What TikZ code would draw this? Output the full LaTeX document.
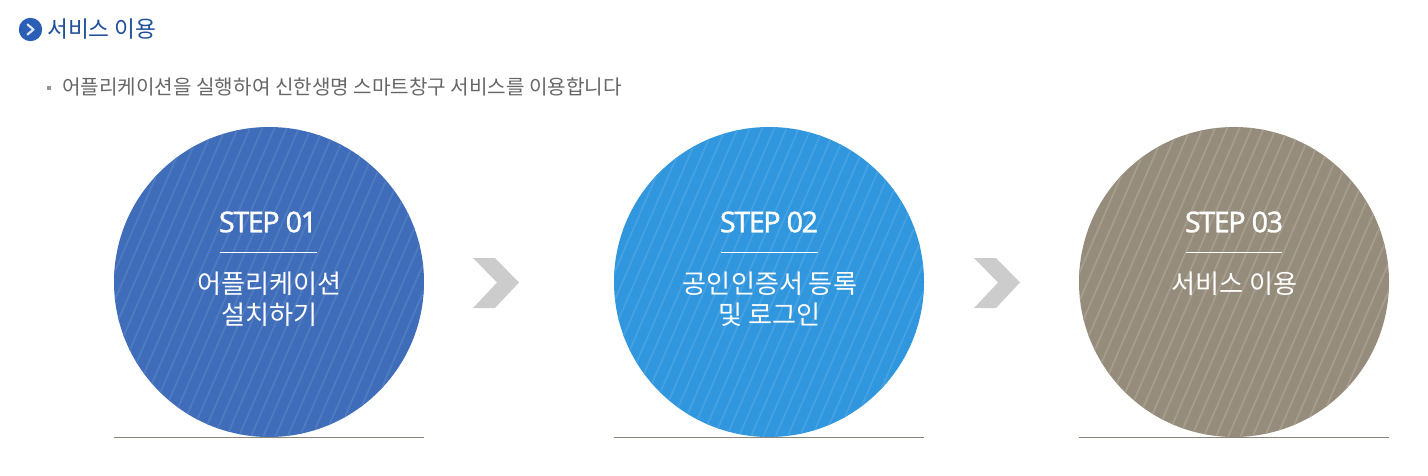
\documentclass[tikz,border=0pt]{standalone}
\usepackage{fontspec}
\setmainfont{Noto Sans CJK KR}
\newfontfamily\stepfont{Noto Sans}[FakeBold=0.9]
\definecolor{titleblue}{HTML}{1F4E9A}
\definecolor{bulletblue}{HTML}{2A5FB5}
\definecolor{bodygray}{HTML}{666666}
\definecolor{blueA}{HTML}{3F6DB9}
\definecolor{blueAs}{HTML}{4F7BC1}
\definecolor{blueB}{HTML}{3096DD}
\definecolor{blueBs}{HTML}{45A1E1}
\definecolor{brownC}{HTML}{968C7B}
\definecolor{brownCs}{HTML}{A59D8E}
\definecolor{chev}{HTML}{CCCCCC}
\definecolor{groundgray}{HTML}{8A8478}
\tikzset{
  x=0.75pt,y=-0.75pt,
  steptitle/.style={text=white,font=\stepfont\fontsize{21.5pt}{22pt}\selectfont\addfontfeatures{LetterSpace=-5},inner sep=0,anchor=center},
  stepdesc/.style={text=white,font=\fontsize{19.6pt}{23.3pt}\selectfont,align=center,inner sep=0,anchor=north},
  rulewhite/.style={white,line width=0.75pt},
  groundline/.style={groundgray,line width=0.9pt},
  chevron/.style={fill=chev,draw=none},
}
\newcommand{\stepcircle}[4]{% cx, fill, stripe, name
  \node[circle,minimum size=232.5pt,inner sep=0,fill=#2] (#4) at (#1,282) {};
  \begin{scope}
    \clip (#1,282) circle[radius=155];
    \foreach \k in {-20,...,20}
      \draw[#3,line width=1.3pt] ({#1+\k*12.2+70},120) -- ({#1+\k*12.2-70},444);
  \end{scope}
}
\begin{document}
\begin{tikzpicture}
\useasboundingbox (0,0) rectangle (1428,475);
% header
\node[circle,fill=bulletblue,minimum size=17.5pt,inner sep=0] (bullet) at (30.5,29.5) {};
\draw[white!85!bulletblue,line width=1.6pt,line cap=round,line join=round] (27.5,24.5) -- (33.5,29.5) -- (27.5,34.5);
\node[anchor=west,inner sep=0,text=titleblue,font=\fontsize{17pt}{18pt}\selectfont] (title) at (47,29) {서비스 이용};
\node[fill=bodygray!70,minimum size=3pt,inner sep=0] (dot) at (49,87.5) {};
\node[anchor=west,inner sep=0,text=bodygray,font=\fontsize{15.1pt}{16pt}\selectfont] (sub) at (62,87) {어플리케이션을 실행하여 신한생명 스마트창구 서비스를 이용합니다};
% circles
\stepcircle{269}{blueA}{blueAs}{c1}
\stepcircle{769}{blueB}{blueBs}{c2}
\stepcircle{1234}{brownC}{brownCs}{c3}
% ground lines
\coordinate (g1a) at (114,437.5); \coordinate (g1b) at (424,437.5);
\coordinate (g2a) at (614,437.5); \coordinate (g2b) at (924,437.5);
\coordinate (g3a) at (1079,437.5); \coordinate (g3b) at (1389,437.5);
\draw[groundline] (g1a) -- (g1b);
\draw[groundline] (g2a) -- (g2b);
\draw[groundline] (g3a) -- (g3b);
% step 1
\node[steptitle] (t1) at (268,222) {STEP 01};
\coordinate (r1a) at (220,252.5); \coordinate (r1b) at (317,252.5);
\draw[rulewhite] (r1a) -- (r1b);
\node[stepdesc] (d1) at (269.5,272) {어플리케이션\\설치하기};
% step 2
\node[steptitle] (t2) at (769,222) {STEP 02};
\coordinate (r2a) at (721,252.5); \coordinate (r2b) at (818,252.5);
\draw[rulewhite] (r2a) -- (r2b);
\node[stepdesc] (d2) at (770,272) {공인인증서 등록\\및 로그인};
% step 3
\node[steptitle] (t3) at (1234,222) {STEP 03};
\coordinate (r3a) at (1186,252.5); \coordinate (r3b) at (1282,252.5);
\draw[rulewhite] (r3a) -- (r3b);
\node[stepdesc] (d3) at (1234.5,272) {서비스 이용};
% chevrons
\fill[chevron] (473,258) -- (495,258) -- (519,282.5) -- (495,308) -- (473,308) -- (497,282.5) -- cycle;
\fill[chevron] (974,258) -- (996,258) -- (1020,282.5) -- (996,308) -- (974,308) -- (998,282.5) -- cycle;
\end{tikzpicture}
\end{document}
